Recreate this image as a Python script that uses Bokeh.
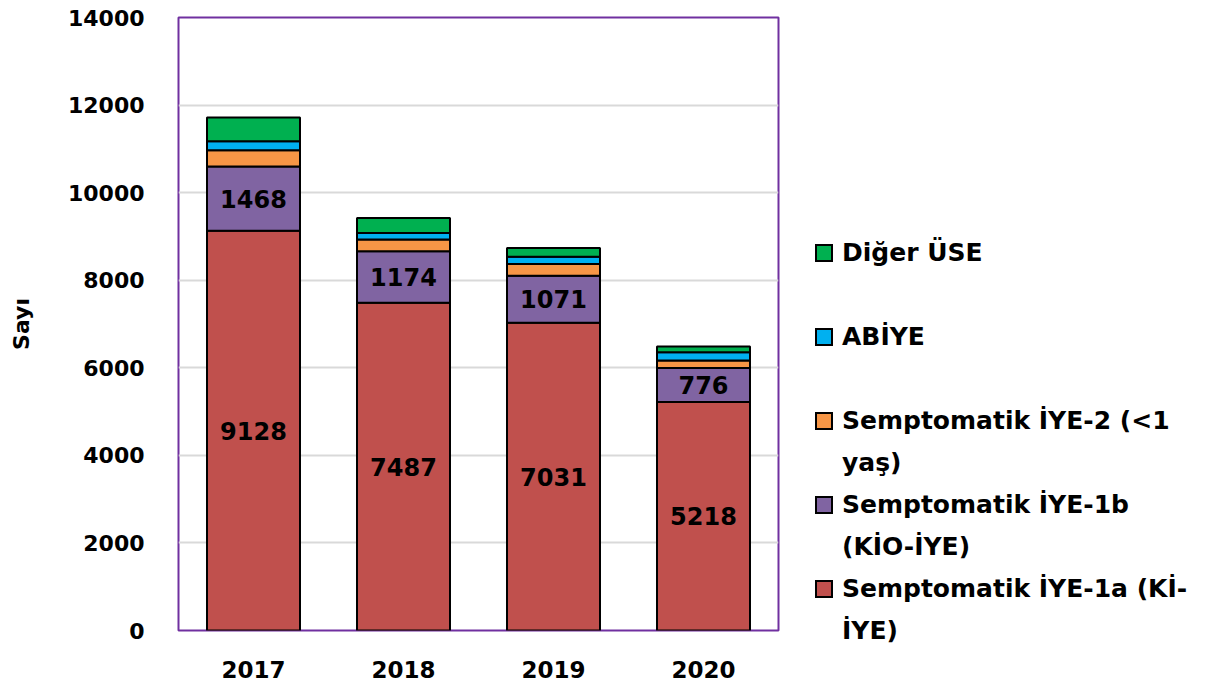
from bokeh.plotting import figure
from bokeh.models import ColumnDataSource, Range1d, FixedTicker, Div
from bokeh.layouts import row
from bokeh.core.properties import value
from bokeh.embed import file_html
from bokeh.resources import INLINE

years = ["2017", "2018", "2019", "2020"]
iye1a = [9128, 7487, 7031, 5218]
iye1b = [1468, 1174, 1071, 776]
iye2 = [370, 270, 270, 170]
abiye = [210, 150, 165, 190]
diger = [540, 340, 200, 130]

series_keys = ["iye1a", "iye1b", "iye2", "abiye", "diger"]
series_labels = [
    "Semptomatik İYE-1a (Kİ-\nİYE)",
    "Semptomatik İYE-1b\n(KİO-İYE)",
    "Semptomatik İYE-2 (&lt;1\nyaş)",
    "ABİYE",
    "Diğer ÜSE",
]
colors = ["#C0504D", "#8064A2", "#F79646", "#00B0F0", "#00B050"]
y_ticks = [0, 2000, 4000, 6000, 8000, 10000, 12000, 14000]

FONT = "DejaVu Sans"
TOP, FH, BOT = 17, 613, 54
H = TOP + FH + BOT
MW = 178 + 600 + 22

src = ColumnDataSource(dict(x=years, iye1a=iye1a, iye1b=iye1b, iye2=iye2,
                            abiye=abiye, diger=diger))

p = figure(x_range=years, y_range=Range1d(0, 14000),
           width=MW, height=H,
           min_border_left=178, min_border_right=22,
           min_border_top=TOP, min_border_bottom=BOT,
           output_backend="svg", toolbar_location=None)

p.vbar_stack(series_keys, x="x", width=0.62, source=src, color=colors,
             line_color="black", line_width=2)

# value labels for the two bottom segments
lab_y = [a / 2 for a in iye1a] + [a + b / 2 for a, b in zip(iye1a, iye1b)]
lab_t = [str(v) for v in iye1a] + [str(v) for v in iye1b]
lab_src = ColumnDataSource(dict(x=years + years, y=lab_y, t=lab_t))
p.text(x="x", y="y", text="t", source=lab_src, text_align="center",
       text_baseline="middle", text_font=value(FONT), text_font_style="bold",
       text_font_size="24px", text_color="black")

p.outline_line_color = "#7030A0"
p.outline_line_width = 2
p.xgrid.grid_line_color = None
p.ygrid.grid_line_color = "#D9D9D9"
p.ygrid.grid_line_width = 2
p.yaxis.ticker = FixedTicker(ticks=y_ticks)
p.yaxis.minor_tick_line_color = None
p.yaxis.major_tick_line_color = None
p.yaxis.axis_line_color = None
p.xaxis.axis_line_color = None
p.xaxis.major_tick_line_color = None
p.yaxis.major_label_standoff = 28
p.xaxis.major_label_standoff = 24
for ax in (p.xaxis, p.yaxis):
    ax.major_label_text_font = FONT
    ax.major_label_text_font_style = "bold"
    ax.major_label_text_color = "black"
p.yaxis.major_label_text_font_size = "22px"
p.xaxis.major_label_text_font_size = "23px"
p.yaxis.axis_label = "Sayı"
p.yaxis.axis_label_text_font = FONT
p.yaxis.axis_label_text_font_style = "bold"
p.yaxis.axis_label_text_font_size = "22px"
p.yaxis.axis_label_standoff = 31
p.yaxis.axis_label_text_color = "black"

# legend panel as HTML (top = last series)
LW = 1214 - MW
parts = []
order = list(range(len(series_keys)))[::-1]
for slot, i in enumerate(order):
    y0 = 248 + 84 * slot
    parts.append(
        f'<div style="position:absolute;left:10px;top:{y0 - 9}px;width:18px;height:18px;'
        f'box-sizing:border-box;border:2px solid black;background:{colors[i]};"></div>')
    for j, line in enumerate(series_labels[i].split("\n")):
        parts.append(
            f'<div style="position:absolute;left:37px;top:{y0 + 42 * j - 15}px;'
            f'line-height:30px;white-space:nowrap;">{line}</div>')
html = (f'<div style="position:relative;width:{LW - 10}px;height:{H - 10}px;'
        f"font-family:'{FONT}';font-weight:bold;font-size:25px;color:black;\">"
        + "".join(parts) + "</div>")
lg = Div(text=html, width=LW, height=H)

layout = row(p, lg)
open("out.html", "w").write(file_html(layout, INLINE))
